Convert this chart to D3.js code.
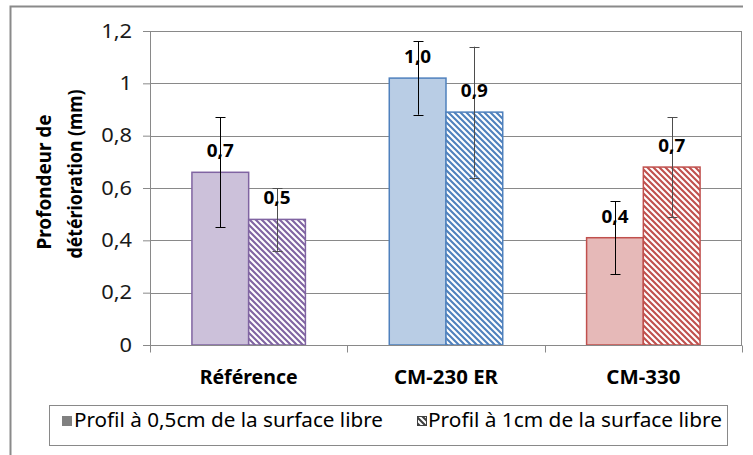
<!DOCTYPE html>
<html>
<head>
<meta charset="utf-8">
<script src="https://cdn.jsdelivr.net/npm/d3@7"></script>
<style>
  html, body { margin: 0; padding: 0; background: #fff; }
  svg { display: block; font-family: "Noto Sans", "Open Sans", sans-serif; }
</style>
</head>
<body>
<svg id="chart" width="753" height="455"></svg>
<script>
// ---- data ----
const categories = ["Référence", "CM-230 ER", "CM-330"];
const seriesNames = ["Profil à 0,5cm de la surface libre", "Profil à 1cm de la surface libre"];
const depth05 = [0.66, 1.02, 0.41];   // mm, profile at 0.5 cm
const depth1  = [0.48, 0.89, 0.68];   // mm, profile at 1 cm
const err05   = [0.21, 0.14, 0.14];
const err1    = [0.12, 0.25, 0.19];
const yTicks  = [0, 0.2, 0.4, 0.6, 0.8, 1, 1.2];
const yTitle  = ["Profondeur de", "détérioration (mm)"];

// ---- styling ----
const fillColors = ["#ccc1da", "#b9cde5", "#e6b9b8"];
const lineColors = ["#8064a2", "#4f81bd", "#c0504d"];
const gridColor = "#898989";

const series = [
  { name: seriesNames[0], values: depth05, errors: err05, hatched: false, errColor: "#000" },
  { name: seriesNames[1], values: depth1,  errors: err1,  hatched: true,  errColor: "#4d4d4d" }
];

const plot = { left: 150, right: 742, top: 31, bottom: 345 };

const fr = d3.formatLocale({ decimal: ",", thousands: " ", grouping: [3], currency: ["", " €"] });
const tickFmt = fr.format("~g");
const labelFmt = fr.format(".1f");

const svg = d3.select("#chart");
svg.append("rect").attr("width", 753).attr("height", 455).attr("fill", "#fff");

// diagonal hatch patterns, one per category colour plus one for the legend key
const defs = svg.append("defs");
function hatch(id, color) {
  const p = defs.append("pattern").attr("id", id)
    .attr("patternUnits", "userSpaceOnUse").attr("width", 6).attr("height", 6);
  p.append("rect").attr("width", 6).attr("height", 6).attr("fill", "#fff");
  p.append("path").attr("d", "M-3,3 L3,9 M0,0 L6,6 M3,-3 L9,3")
    .attr("stroke", color).attr("stroke-width", 2.1);
}
lineColors.forEach((c, i) => hatch("hatch" + i, c));
hatch("hatchKey", "#404040");

// stretch a text node horizontally by a factor of its natural width
function widen(sel, k) {
  sel.each(function () {
    const w = this.getComputedTextLength();
    d3.select(this).attr("textLength", w * k).attr("lengthAdjust", "spacingAndGlyphs");
  });
}

// ---- scales ----
const x = d3.scaleBand().domain(categories).range([plot.left, plot.right]).padding(0);
const inner = d3.scaleBand().domain(d3.range(series.length))
  .range([x.bandwidth() * 0.2125, x.bandwidth() * 0.7875]).padding(0);
const y = d3.scaleLinear().domain([0, 1.2]).range([plot.bottom, plot.top]);

const crisp = v => Math.round(v) + 0.5;

// ---- chart frame (top and left edges) ----
svg.append("path").attr("d", "M10.5,455 V6.5 H743")
  .attr("fill", "none").attr("stroke", "#8a8a8a").attr("stroke-width", 2);

// ---- gridlines and plot border ----
svg.append("g").selectAll("line").data(yTicks.filter(t => t > 0)).join("line")
  .attr("x1", plot.left).attr("x2", plot.right)
  .attr("y1", d => crisp(y(d))).attr("y2", d => crisp(y(d)))
  .attr("stroke", gridColor).attr("stroke-width", 1);
svg.append("line")
  .attr("x1", crisp(plot.right) - 1).attr("x2", crisp(plot.right) - 1)
  .attr("y1", crisp(y(1.2))).attr("y2", crisp(y(0)))
  .attr("stroke", gridColor);

// ---- bars ----
const groups = svg.append("g").selectAll("g").data(series).join("g");
groups.each(function (s, si) {
  const g = d3.select(this);
  g.selectAll("rect").data(categories).join("rect")
    .attr("x", c => x(c) + inner(si))
    .attr("y", (c, ci) => y(s.values[ci]))
    .attr("width", inner.bandwidth())
    .attr("height", (c, ci) => y(0) - y(s.values[ci]))
    .attr("fill", (c, ci) => s.hatched ? `url(#hatch${ci})` : fillColors[ci])
    .attr("stroke", (c, ci) => lineColors[ci])
    .attr("stroke-width", 1.5);
});

// ---- axes ----
svg.append("line")
  .attr("x1", plot.left).attr("x2", plot.right)
  .attr("y1", crisp(y(0))).attr("y2", crisp(y(0)))
  .attr("stroke", gridColor);
const boundaries = categories.map(c => x(c)).concat([x.range()[1]]);
svg.append("g").selectAll("line").data(boundaries).join("line")
  .attr("x1", d => crisp(d)).attr("x2", d => crisp(d))
  .attr("y1", crisp(y(0))).attr("y2", crisp(y(0)) + 7)
  .attr("stroke", gridColor);

const yAxis = svg.append("g").attr("transform", `translate(${plot.left},0)`)
  .call(d3.axisLeft(y).tickValues(yTicks).tickFormat(tickFmt)
    .tickSize(7).tickSizeOuter(0).tickPadding(11));
yAxis.select(".domain").attr("stroke", gridColor);
yAxis.selectAll(".tick line").attr("stroke", gridColor);
yAxis.selectAll(".tick text")
  .attr("font-family", '"Noto Sans", sans-serif')
  .attr("font-size", 19).attr("fill", "#1a1a1a")
  .call(widen, 1.15);

// category labels
const catWidths = [98, 104, 74];
svg.append("g").selectAll("text").data(categories).join("text")
  .attr("x", c => x(c) + x.bandwidth() / 2)
  .attr("y", 384)
  .attr("text-anchor", "middle")
  .attr("font-size", 20).attr("font-weight", "bold").attr("fill", "#000")
  .attr("textLength", (c, i) => catWidths[i]).attr("lengthAdjust", "spacingAndGlyphs")
  .text(c => c);

// y-axis title (two rotated lines)
const titlePos = [{ bx: 51, cy: 182, w: 135 }, { bx: 82, cy: 174, w: 169 }];
svg.append("g").selectAll("text").data(yTitle).join("text")
  .attr("transform", (d, i) => `translate(${titlePos[i].bx},${titlePos[i].cy}) rotate(-90)`)
  .attr("text-anchor", "middle")
  .attr("font-size", 20).attr("font-weight", "bold").attr("fill", "#000")
  .attr("textLength", (d, i) => titlePos[i].w).attr("lengthAdjust", "spacingAndGlyphs")
  .text(d => d);

// ---- error bars ----
groups.each(function (s, si) {
  const g = d3.select(this).append("g").attr("stroke", s.errColor).attr("stroke-width", 1);
  categories.forEach((c, ci) => {
    const cx = crisp(x(c) + inner(si) + inner.bandwidth() / 2);
    const hi = y(s.values[ci] + s.errors[ci]);
    const lo = y(s.values[ci] - s.errors[ci]);
    g.append("line").attr("x1", cx).attr("x2", cx).attr("y1", hi).attr("y2", lo);
    g.append("line").attr("x1", cx - 5).attr("x2", cx + 5).attr("y1", crisp(hi)).attr("y2", crisp(hi));
    g.append("line").attr("x1", cx - 5).attr("x2", cx + 5).attr("y1", crisp(lo)).attr("y2", crisp(lo));
  });
});

// ---- value labels ----
groups.each(function (s, si) {
  d3.select(this).append("g").selectAll("text").data(categories).join("text")
    .attr("x", c => x(c) + inner(si) + inner.bandwidth() / 2)
    .attr("y", (c, ci) => y(s.values[ci]) - 15)
    .attr("text-anchor", "middle")
    .attr("font-size", 18).attr("font-weight", "bold").attr("fill", "#000")
    .text((c, ci) => labelFmt(s.values[ci]))
    .call(widen, 1.05);
});

// ---- legend ----
const legend = svg.append("g");
legend.append("rect").attr("x", 49.5).attr("y", 405.5).attr("width", 678).attr("height", 40)
  .attr("fill", "#fff").attr("stroke", gridColor);
const keys = [
  { kx: 62, tx: 74, tw: 309 },
  { kx: 417, tx: 428, tw: 294 }
];
legend.selectAll("rect.key").data(series).join("rect").attr("class", "key")
  .attr("x", (s, i) => keys[i].kx + 0.5).attr("y", 416.5)
  .attr("width", 9).attr("height", 9)
  .attr("fill", s => s.hatched ? "url(#hatchKey)" : "#808080")
  .attr("stroke", s => s.hatched ? "#404040" : "#808080").attr("stroke-width", 1);
legend.selectAll("text").data(series).join("text")
  .attr("x", (s, i) => keys[i].tx).attr("y", 427)
  .attr("font-size", 19).attr("fill", "#000")
  .attr("textLength", (s, i) => keys[i].tw).attr("lengthAdjust", "spacingAndGlyphs")
  .text(s => s.name);
</script>
</body>
</html>
